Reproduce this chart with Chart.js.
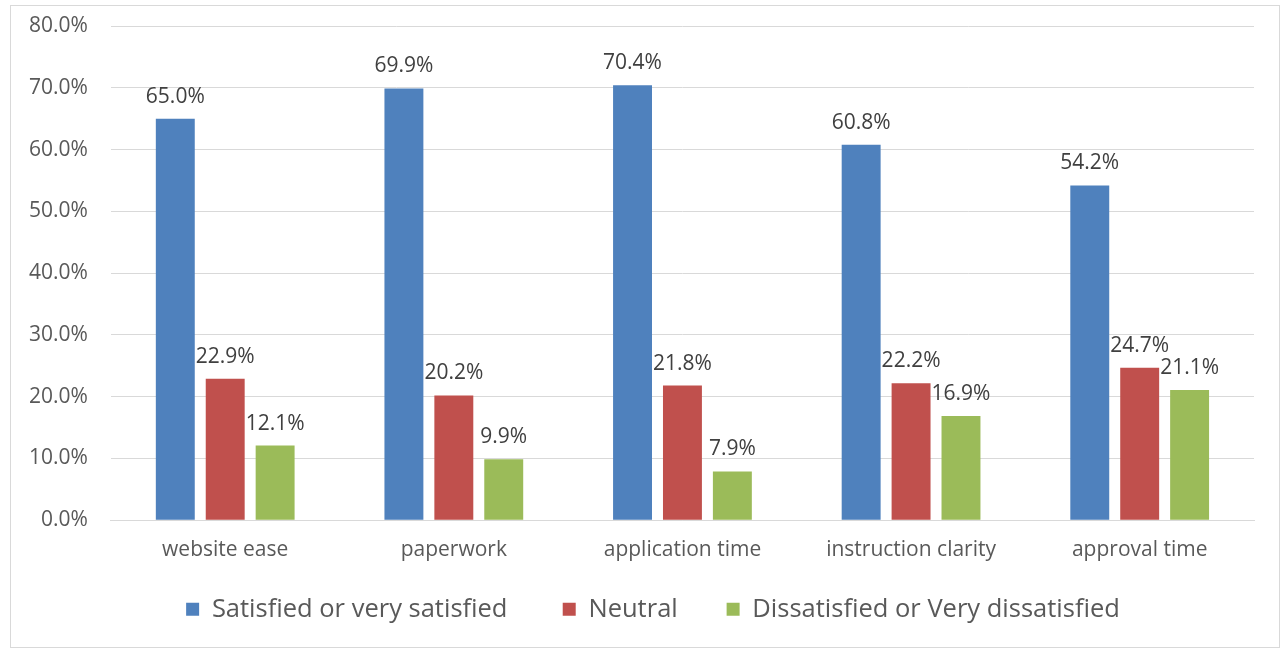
<!DOCTYPE html>
<html>
<head>
<meta charset="utf-8">
<script src="https://cdn.jsdelivr.net/npm/chart.js@4.4.1/dist/chart.umd.min.js"></script>
<style>
  body { margin: 0; background: #fff; }
  #wrap { position: absolute; left: 10px; top: 5px; width: 1268px; height: 641px; border: 1px solid #d9d9d9; }
</style>
</head>
<body>
<div id="wrap"><canvas id="chart"></canvas></div>
<script>
var categories = ["website ease", "paperwork", "application time", "instruction clarity", "approval time"];
var satisfied = [65.0, 69.9, 70.4, 60.8, 54.2];
var neutral = [22.9, 20.2, 21.8, 22.2, 24.7];
var dissatisfied = [12.1, 9.9, 7.9, 16.9, 21.1];
var seriesNames = ["Satisfied or very satisfied", "Neutral", "Dissatisfied or Very dissatisfied"];
var seriesColors = ["#4f81bd", "#c0504d", "#9bbb59"];
var legendGaps = ["\u2003\u2002", "\u2003\u2005", ""];

var fontFamily = "'Open Sans', 'Noto Sans', sans-serif";

// draws the value above each bar
var barLabels = {
    id: "barLabels",
    afterDatasetsDraw: function(chart) {
        var ctx = chart.ctx;
        ctx.save();
        ctx.font = "21px " + fontFamily;
        ctx.fillStyle = "#404040";
        ctx.textAlign = "center";
        ctx.textBaseline = "middle";
        chart.data.datasets.forEach(function(ds, i) {
            chart.getDatasetMeta(i).data.forEach(function(bar, j) {
                ctx.fillText(ds.data[j].toFixed(1) + "%", bar.x, bar.y - 22);
            });
        });
        ctx.restore();
    }
};

// nudge the legend a bit to the right
var legendShift = {
    id: "legendShift",
    afterLayout: function(chart) {
        chart.legend.left += 23;
        chart.legend.right += 23;
    }
};

new Chart(document.getElementById("chart"), {
    type: "bar",
    data: {
        labels: categories,
        datasets: [
            { label: seriesNames[0], data: satisfied, backgroundColor: seriesColors[0] },
            { label: seriesNames[1], data: neutral, backgroundColor: seriesColors[1] },
            { label: seriesNames[2], data: dissatisfied, backgroundColor: seriesColors[2] }
        ]
    },
    options: {
        responsive: true,
        maintainAspectRatio: false,
        animation: false,
        categoryPercentage: 0.655,
        barPercentage: 0.78,
        layout: { padding: { left: -5, right: 25, top: 0, bottom: 15 } },
        plugins: {
            legend: {
                position: "bottom",
                labels: {
                    boxWidth: 13,
                    boxHeight: 13,
                    padding: 17,
                    color: "#595959",
                    font: { family: fontFamily, size: 25.5 },
                    // extra room after each item
                    generateLabels: function(chart) {
                        var items = Chart.defaults.plugins.legend.labels.generateLabels(chart);
                        items.forEach(function(item, i) {
                            item.text += legendGaps[i];
                        });
                        return items;
                    }
                }
            },
            tooltip: { enabled: false }
        },
        scales: {
            x: {
                grid: { display: false, drawTicks: false },
                border: { color: "#d9d9d9" },
                ticks: { color: "#595959", padding: 17, font: { family: fontFamily, size: 21 } }
            },
            y: {
                min: 0,
                max: 80,
                grid: { color: "#d9d9d9", drawTicks: false },
                border: { display: false },
                ticks: {
                    stepSize: 10,
                    padding: 23,
                    color: "#595959",
                    font: { family: fontFamily, size: 21 },
                    callback: function(value) { return value.toFixed(1) + "%"; }
                },
                // keep the label gap from pushing the plot down
                afterFit: function(scale) {
                    scale.paddingTop = 20;
                    scale.paddingBottom = 0;
                }
            }
        }
    },
    plugins: [barLabels, legendShift]
});
</script>
</body>
</html>
